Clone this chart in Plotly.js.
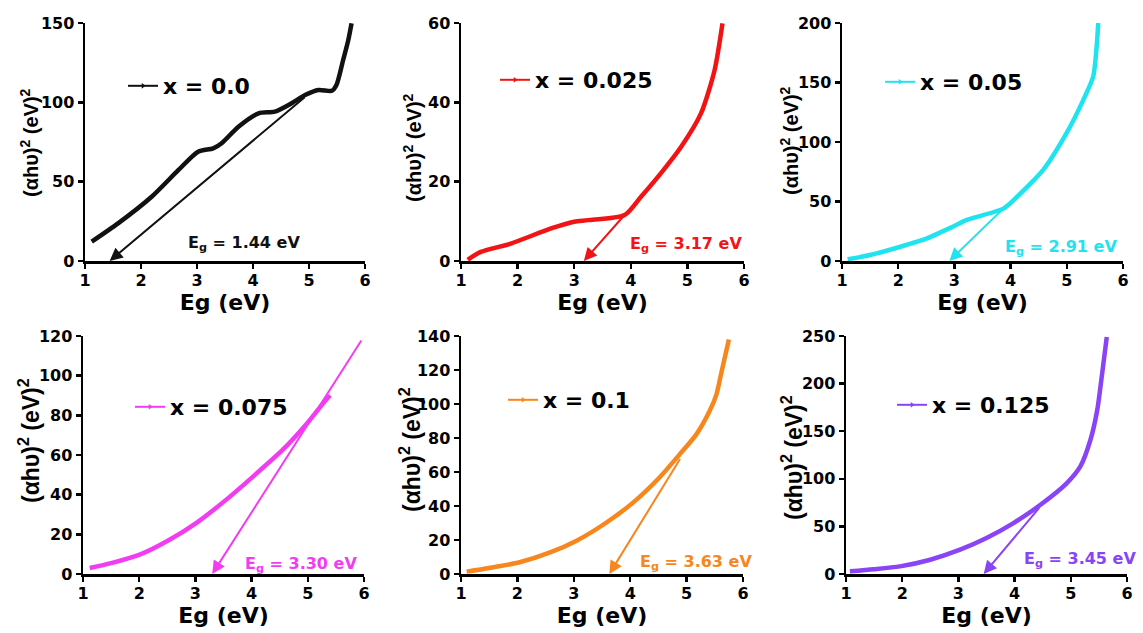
<!DOCTYPE html>
<html>
<head>
<meta charset="utf-8">
<script src="https://cdn.plot.ly/plotly-3.0.1.min.js"></script>
<style>html,body{margin:0;padding:0;background:#fff;}#chart{width:1143px;height:633px;}</style>
</head>
<body>
<div id="chart"></div>
<script>
// ---------- data ----------
const seriesLabels = ['x = 0.0', 'x = 0.025', 'x = 0.05', 'x = 0.075', 'x = 0.1', 'x = 0.125'];

const eg_x000 = [1.12, 1.59, 2.19, 2.67, 3.02, 3.29, 3.44, 3.74, 4.10, 4.39, 4.69, 4.93, 5.17, 5.41, 5.49, 5.61, 5.70, 5.76];
const ahv_x000 = [12.2, 23.7, 40.5, 57.4, 68.9, 71.0, 74.2, 84.6, 93.1, 94.1, 99.4, 104.6, 107.8, 107.3, 110.9, 126.7, 139, 149.8];

const eg_x025 = [1.12, 1.18, 1.35, 1.88, 2.59, 3.00, 3.24, 3.89, 4.18, 4.53, 4.89, 5.24, 5.48, 5.62];
const ahv_x025 = [0.3, 0.9, 2.3, 4.4, 8.2, 9.9, 10.3, 11.6, 16.2, 22.1, 28.8, 37.2, 48.1, 59.9];

const eg_x050 = [1.10, 1.50, 2.04, 2.51, 2.98, 3.22, 3.87, 4.05, 4.58, 4.99, 5.29, 5.47, 5.53, 5.56];
const ahv_x050 = [1.4, 5, 12, 19, 29, 34.5, 44, 51, 76.6, 107, 135, 155, 180, 200];

const eg_x075 = [1.12, 1.50, 2.01, 2.54, 3.02, 3.55, 4.02, 4.56, 4.97, 5.33, 5.40];
const ahv_x075 = [3, 5.5, 9.8, 17.3, 25.8, 37.5, 49, 62.8, 75.4, 88, 90];

const eg_x100 = [1.10, 1.50, 2.04, 2.58, 3.05, 3.58, 4.05, 4.52, 4.88, 5.17, 5.41, 5.53, 5.62, 5.75];
const ahv_x100 = [1.4, 3.5, 6.9, 12.7, 19.6, 30.3, 42, 56.8, 70.5, 82, 96, 105.7, 119, 138];

const eg_x125 = [1.07, 1.50, 1.96, 2.50, 3.03, 3.50, 3.98, 4.46, 4.93, 5.17, 5.35, 5.47, 5.55, 5.64];
const ahv_x125 = [2.8, 5, 8, 15, 25.5, 37.8, 53.5, 72.7, 95.5, 113, 141, 172, 207, 249];

const bandGap = [1.44, 3.17, 2.91, 3.30, 3.63, 3.45];      // extrapolated Eg (eV)
const tangentFromEg = [4.95, 3.89, 3.87, 5.97, 4.90, 4.46]; // point on curve where tangent starts
const tangentFromY = [104, 11.6, 44, 118.5, 68.5, 71];
const yMax = [150, 60, 200, 120, 140, 250];
const yStep = [50, 20, 50, 20, 20, 50];
const xTicks = [1, 2, 3, 4, 5, 6];

const curvesX = [eg_x000, eg_x025, eg_x050, eg_x075, eg_x100, eg_x125];
const curvesY = [ahv_x000, ahv_x025, ahv_x050, ahv_x075, ahv_x100, ahv_x125];

// ---------- styles / layout ----------
const colors = ['#111111', '#f21414', '#1fe3ee', '#f23cf2', '#f7861c', '#8844f6'];
const W = 1143, H = 633;
// plot areas in pixels [left, right, top, bottom]
const boxes = [
  [85, 365, 23, 261], [461, 744, 23, 261], [842, 1123, 23, 261],
  [83, 364, 336, 574], [461, 743, 336, 574], [846, 1127, 336, 574]
];
const legendAt = [[123, 86], [495, 80], [880, 82], [130, 407], [503, 400], [892, 405]];
const egLabelAt = [[244, 243], [686, 245], [1061, 247], [301, 564], [696, 562], [1080, 559]];
const yTitleAt = [[30, 143], [412, 148], [790, 141], [29, 441], [410, 450], [792, 458]];
const yTitleSize = [20, 20, 20, 23, 23, 23];

const FONT = 'DejaVu Sans, Liberation Sans, Arial, sans-serif';
const TITLEFONT = 'Liberation Sans, Arial, sans-serif';
const traces = [];
const layout = {
  width: W, height: H,
  margin: {l: 0, r: 0, t: 0, b: 0},
  paper_bgcolor: '#fff', plot_bgcolor: '#fff',
  font: {family: FONT, color: '#000'},
  annotations: [],
  showlegend: true
};

for (let i = 0; i < 6; i++) {
  const n = i + 1;
  const xa = n === 1 ? 'x' : 'x' + n, ya = n === 1 ? 'y' : 'y' + n;
  const xKey = n === 1 ? 'xaxis' : 'xaxis' + n, yKey = n === 1 ? 'yaxis' : 'yaxis' + n;
  const lgKey = n === 1 ? 'legend' : 'legend' + n;
  const b = boxes[i];

  traces.push({
    x: curvesX[i], y: curvesY[i], xaxis: xa, yaxis: ya,
    type: 'scatter', mode: 'lines',
    line: {color: colors[i], width: 4.5, shape: 'spline', smoothing: 0.7},
    showlegend: false, hoverinfo: 'skip'
  });
  // legend entry
  traces.push({
    x: [null], y: [null], xaxis: xa, yaxis: ya,
    type: 'scatter', mode: 'lines+markers', name: seriesLabels[i],
    line: {color: colors[i], width: 2},
    marker: {color: colors[i], symbol: 'triangle-right', size: 5},
    legend: lgKey, showlegend: true
  });

  const axisLine = {
    showline: true, linecolor: '#000', linewidth: 2.5,
    ticks: 'outside', ticklen: 5, tickwidth: 2.5, tickcolor: '#000',
    showgrid: false, zeroline: false,
    tickfont: {family: FONT, size: 16, weight: 'bold', color: '#000'}
  };
  layout[xKey] = Object.assign({}, axisLine, {
    domain: [b[0] / W, b[1] / W], anchor: ya,
    range: [1, 6], tickvals: xTicks, ticklabelstandoff: -2,
    title: {text: 'Eg (eV)', font: {family: FONT, size: 22, weight: 'bold', color: '#000'}, standoff: 0}
  });
  layout[yKey] = Object.assign({}, axisLine, {
    domain: [1 - b[3] / H, 1 - b[2] / H], anchor: xa,
    range: [0, yMax[i]], tick0: 0, dtick: yStep[i],
    title: {text: ''}
  });
  // y-axis title, placed like in the reference
  layout.annotations.push({
    xref: 'paper', yref: 'paper',
    x: yTitleAt[i][0] / W, y: 1 - yTitleAt[i][1] / H,
    xanchor: 'center', yanchor: 'middle', textangle: -90, showarrow: false,
    text: '(αhυ)<sup>2</sup> (eV)<sup>2</sup>',
    font: {family: TITLEFONT, size: yTitleSize[i], weight: 'bold', color: '#000'}
  });
  layout[lgKey] = {
    x: legendAt[i][0] / W, y: 1 - legendAt[i][1] / H,
    xref: 'paper', yref: 'paper', xanchor: 'left', yanchor: 'middle',
    bgcolor: 'rgba(0,0,0,0)', borderwidth: 0, itemwidth: 30,
    font: {family: FONT, size: 22, weight: 'bold', color: '#000'}
  };
  // tangent arrow down to the band gap
  layout.annotations.push({
    xref: xa, yref: ya, axref: xa, ayref: ya,
    x: bandGap[i], y: 0, ax: tangentFromEg[i], ay: tangentFromY[i],
    text: '', showarrow: true, arrowhead: 2, arrowsize: 1.3, arrowwidth: 2,
    arrowcolor: colors[i], standoff: 0, startstandoff: 0
  });
  // Eg label
  layout.annotations.push({
    xref: 'paper', yref: 'paper',
    x: egLabelAt[i][0] / W, y: 1 - egLabelAt[i][1] / H,
    xanchor: 'center', yanchor: 'middle', showarrow: false,
    text: 'E<sub>g</sub> = ' + bandGap[i].toFixed(2) + ' eV',
    font: {family: FONT, size: 16, weight: 'bold', color: colors[i]}
  });
}

Plotly.newPlot('chart', traces, layout, {staticPlot: true});
</script>
</body>
</html>
